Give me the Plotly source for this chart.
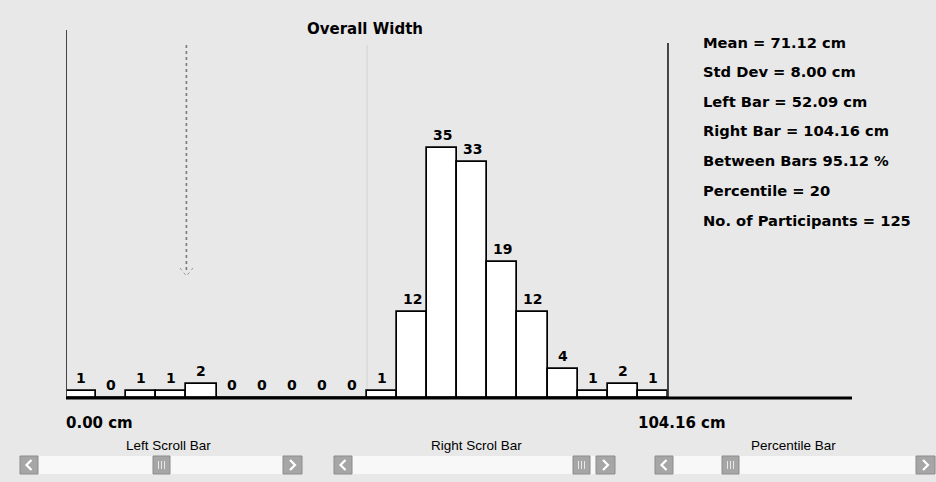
import plotly.graph_objects as go

# ---- data ----
bin_counts = [1, 0, 1, 1, 2, 0, 0, 0, 0, 0, 1, 12, 35, 33, 19, 12, 4, 1, 2, 1]
axis_min_cm = 0.00
left_bar_cm = 52.09
right_bar_cm = 104.16
percentile = 20
title_text = "Overall Width"
stats_lines = [
    "Mean = 71.12 cm",
    "Std Dev = 8.00 cm",
    "Left Bar = 52.09 cm",
    "Right Bar = 104.16 cm",
    "Between Bars 95.12 %",
    "Percentile = 20",
    "No. of Participants = 125",
]
scroll_labels = ["Left Scroll Bar", "Right Scrol Bar", "Percentile Bar"]

# ---- derived bin geometry ----
n_bins = len(bin_counts)
bin_w = (right_bar_cm - axis_min_cm) / n_bins
bin_centers = [axis_min_cm + bin_w * (i + 0.5) for i in range(n_bins)]
x_max = 136.0
percentile_cm = percentile / 100 * right_bar_cm

# ---- layout geometry (pixels) ----
FW, FH = 936, 482
L, T, W, H = 66, 30, 786, 368
BG = "#e8e8e8"
FONT = "DejaVu Sans"


def px(x):
    return (x - L) / W


def py(y):
    return (T + H - y) / H


fig = go.Figure()

fig.add_trace(go.Bar(
    x=bin_centers, y=bin_counts, width=bin_w,
    marker=dict(color="white", line=dict(color="black", width=1.7)),
    hoverinfo="skip", showlegend=False,
))

shapes = []
# faint left-bar line
shapes.append(dict(type="line", xref="x", yref="paper", x0=left_bar_cm, x1=left_bar_cm,
                   y0=0, y1=py(45), line=dict(color="#d6d6d6", width=1.2), layer="below"))
# left axis line
shapes.append(dict(type="line", xref="x", yref="paper", x0=axis_min_cm, x1=axis_min_cm,
                   y0=0, y1=1, line=dict(color="#333333", width=1.8)))
# right bar line
shapes.append(dict(type="line", xref="x", yref="paper", x0=right_bar_cm, x1=right_bar_cm,
                   y0=0, y1=py(43), line=dict(color="#333333", width=1.8)))
# percentile dotted line
shapes.append(dict(type="line", xref="x", yref="paper", x0=percentile_cm, x1=percentile_cm,
                   y0=py(270), y1=py(42), line=dict(color="#7a7a7a", width=1.6, dash="dot")))
shapes.append(dict(type="path", xref="paper", yref="paper",
                   path=f"M {px(180)},{py(268)} L {px(186.4)},{py(276)} L {px(193)},{py(268)}",
                   line=dict(color="#9a9a9a", width=1, dash="dot")))
# baseline
shapes.append(dict(type="line", xref="paper", yref="paper", x0=0, x1=1, y0=0, y1=0,
                   line=dict(color="black", width=3)))

annotations = []
# bar count labels
for xc, c in zip(bin_centers, bin_counts):
    annotations.append(dict(text=str(c), x=xc, y=c, xref="x", yref="y",
                            showarrow=False, xanchor="center", yanchor="bottom", yshift=3,
                            font=dict(family=FONT, size=14, color="black", weight="bold")))

annotations.append(dict(text=title_text, x=px(365), y=py(29), xref="paper", yref="paper",
                        showarrow=False, xanchor="center", yanchor="middle",
                        font=dict(family=FONT, size=15, color="black", weight="bold")))
stat_y = [42, 72, 101, 130, 160, 190, 220]
for s, yy in zip(stats_lines, stat_y):
    annotations.append(dict(text=s, x=px(701), y=py(yy), xref="paper", yref="paper",
                            showarrow=False, xanchor="left", yanchor="middle",
                            font=dict(family=FONT, size=14.7, color="black", weight="bold")))
annotations.append(dict(text=f"{axis_min_cm:.2f} cm", x=px(64), y=py(423), xref="paper", yref="paper",
                        showarrow=False, xanchor="left", yanchor="middle",
                        font=dict(family=FONT, size=15, color="black", weight="bold")))
annotations.append(dict(text=f"{right_bar_cm:.2f} cm", x=px(636), y=py(423), xref="paper", yref="paper",
                        showarrow=False, xanchor="left", yanchor="middle",
                        font=dict(family=FONT, size=15, color="black", weight="bold")))

# scroll bars: (track left, track right, thumb left, label center)
bars = [(20, 302, 153, 168), (334, 615, 573, 476), (655, 935, 722, 793)]
ty0, ty1 = 456, 474
for (a, b, th, lc), lab in zip(bars, scroll_labels):
    annotations.append(dict(text=lab, x=px(lc), y=py(446), xref="paper", yref="paper",
                            showarrow=False, xanchor="center", yanchor="middle",
                            font=dict(family="Liberation Sans", size=13.5, color="black")))
    shapes.append(dict(type="rect", xref="paper", yref="paper", x0=px(a), x1=px(b),
                       y0=py(ty1), y1=py(ty0), fillcolor="#f8f8f8", line=dict(width=0), layer="below"))
    for bx0, bx1, kind in [(a, a + 18, "<"), (b - 19, b, ">"), (th, th + 17, "III")]:
        shapes.append(dict(type="rect", xref="paper", yref="paper", x0=px(bx0), x1=px(bx1),
                           y0=py(ty1), y1=py(ty0), fillcolor="#a6a6a6",
                           line=dict(color="#8c8c8c", width=1)))
        cx = (bx0 + bx1) / 2
        cy = (ty0 + ty1) / 2
        if kind == "<":
            p = f"M {px(cx + 2.5)},{py(cy - 5)} L {px(cx - 2.5)},{py(cy)} L {px(cx + 2.5)},{py(cy + 5)}"
            shapes.append(dict(type="path", xref="paper", yref="paper", path=p,
                               line=dict(color="white", width=2.2)))
        elif kind == ">":
            p = f"M {px(cx - 2.5)},{py(cy - 5)} L {px(cx + 2.5)},{py(cy)} L {px(cx - 2.5)},{py(cy + 5)}"
            shapes.append(dict(type="path", xref="paper", yref="paper", path=p,
                               line=dict(color="white", width=2.2)))
        else:
            for dx in (-3, 0, 3):
                shapes.append(dict(type="line", xref="paper", yref="paper",
                                   x0=px(cx + dx), x1=px(cx + dx), y0=py(cy + 4), y1=py(cy - 4),
                                   line=dict(color="#e8e8e8", width=1)))

fig.update_layout(
    width=FW, height=FH,
    margin=dict(l=L, r=FW - L - W, t=T, b=FH - T - H, pad=0),
    paper_bgcolor=BG, plot_bgcolor=BG,
    bargap=0,
    xaxis=dict(range=[0, x_max], visible=False, fixedrange=True),
    yaxis=dict(range=[0, 51.5], visible=False, fixedrange=True),
    shapes=shapes, annotations=annotations,
    showlegend=False,
)

fig.write_html("out.html", config={"displayModeBar": False},
               post_script="document.body.style.margin='0';document.body.style.overflow='hidden';")
